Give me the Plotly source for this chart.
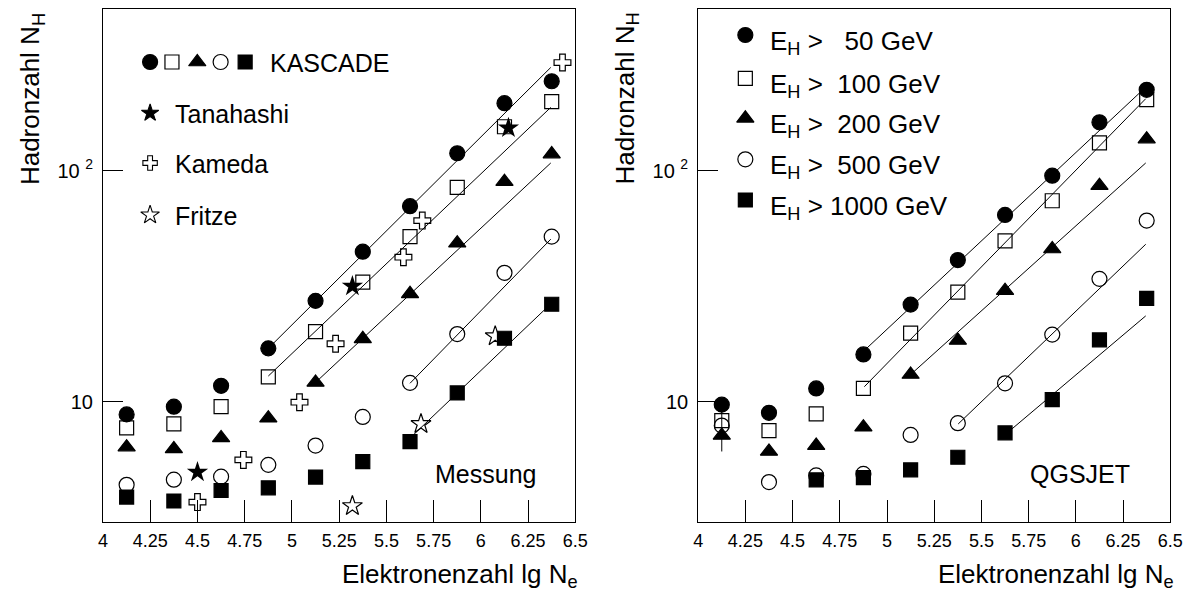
import math
import plotly.graph_objects as go

W, H = 1202, 592

# ---------------- data ----------------
lg_ne = [4.125, 4.375, 4.625, 4.875, 5.125, 5.375, 5.625, 5.875, 6.125, 6.375]

# Messung (KASCADE)
mes_50 = [8.8, 9.5, 11.7, 17.0, 27.3, 44.6, 70.2, 119, 196, 244]
mes_100 = [7.7, 8.0, 9.5, 12.8, 20.1, 32.9, 51.8, 84.7, 155, 199]
mes_200 = [6.35, 6.24, 6.96, 8.47, 12.1, 18.7, 29.3, 48.5, 89.6, 118]
mes_500 = [4.36, 4.59, 4.73, 5.32, 6.45, 8.58, 12.05, 19.6, 36.1, 51.8]
mes_1000 = [3.86, 3.71, 4.12, 4.23, 4.71, 5.49, 6.71, 10.9, 18.8, 26.4]

tanahashi_x = [4.50, 5.32, 6.146]
tanahashi_y = [4.95, 31.6, 153]
kameda_x = [4.50, 4.743, 5.04, 5.231, 5.59, 5.69, 6.432]
kameda_y = [3.67, 5.59, 9.94, 17.8, 42.2, 60.8, 294]
fritze_x = [5.32, 5.683, 6.076]
fritze_y = [3.53, 8.0, 19.2]

# QGSJET simulation
sim_50 = [9.7, 8.94, 11.4, 16.0, 26.3, 41.0, 64.3, 95.1, 162, 224]
sim_100 = [8.27, 7.48, 8.85, 11.4, 19.8, 29.8, 49.7, 74.1, 132, 203]
sim_200 = [7.13, 6.08, 6.45, 7.75, 13.1, 18.4, 30.2, 45.8, 86.1, 137]
sim_500 = [7.87, 4.48, 4.79, 4.86, 7.17, 8.06, 12.0, 19.5, 34.0, 60.8]
sim_1000 = [None, None, 4.58, 4.68, 5.06, 5.74, 7.32, 10.2, 18.5, 28.0]
sim_200_err_plus = [1.9, 0, 0, 0, 0, 0, 0, 0, 0, 0]
sim_200_err_minus = [1.05, 0, 0, 0, 0, 0, 0, 0, 0, 0]

# fit lines: start lgNe, end lgNe, start value, end value
mes_fit_x0 = [4.875, 4.875, 5.125, 5.625, 5.645]
mes_fit_x1 = [6.37, 6.37, 6.37, 6.37, 6.37]
mes_fit_y0 = [17.0, 12.9, 12.1, 12.0, 7.2]
mes_fit_y1 = [280, 188, 108, 50.5, 26.5]

sim_fit_x0 = [4.875, 4.88, 5.13, 5.377, 5.652]
sim_fit_x1 = [6.37, 6.37, 6.37, 6.37, 6.37]
sim_fit_y0 = [16.5, 11.6, 13.2, 8.0, 7.5]
sim_fit_y1 = [230, 205, 108, 48, 23.5]

energy_labels = ["E<sub>H</sub> >\u00a0\u00a0\u00a050 GeV",
                 "E<sub>H</sub> >\u00a0\u00a0100 GeV",
                 "E<sub>H</sub> >\u00a0\u00a0200 GeV",
                 "E<sub>H</sub> >\u00a0\u00a0500 GeV",
                 "E<sub>H</sub> >\u00a01000 GeV"]
x_tickvals = [4, 4.25, 4.5, 4.75, 5, 5.25, 5.5, 5.75, 6, 6.25, 6.5]
x_ticktext = ["4", "4.25", "4.5", "4.75", "5", "5.25", "5.5", "5.75", "6", "6.25", "6.5"]
x_minor = [round(4 + 0.05 * i, 2) for i in range(51)]
y_tickvals = [10, 100]
y_ticktext = ["10", "10 <sup>2</sup>"]
y_minor = [4, 5, 6, 7, 8, 9, 20, 30, 40, 50, 60, 70, 80, 90, 200, 300, 400]

# ---------------- styles ----------------
FONT = "Liberation Sans, Arial, Helvetica, sans-serif"
symbols = ["circle", "square-open", "triangle-up", "circle-open", "square"]
sizes = [15, 14, 15, 15, 14]

def X(p):
    return p / W

def Y(p):
    return 1 - p / H

fig = go.Figure()

def add_panel(xa, ya, series, fx0, fx1, fy0, fy1):
    for i in range(len(series)):
        fig.add_trace(go.Scatter(
            x=[fx0[i], fx1[i]], y=[fy0[i], fy1[i]], mode="lines",
            line=dict(color="black", width=1), xaxis=xa, yaxis=ya,
            showlegend=False, hoverinfo="skip"))
    for i, vals in enumerate(series):
        fig.add_trace(go.Scatter(
            x=lg_ne, y=vals, mode="markers",
            marker=dict(symbol=symbols[i], size=sizes[i], color="black", opacity=1,
                        line=dict(color="black", width=1.2)),
            xaxis=xa, yaxis=ya, showlegend=False, cliponaxis=False))

add_panel("x", "y", [mes_50, mes_100, mes_200, mes_500, mes_1000],
          mes_fit_x0, mes_fit_x1, mes_fit_y0, mes_fit_y1)
fig.add_trace(go.Scatter(x=tanahashi_x, y=tanahashi_y, mode="markers",
                         marker=dict(symbol="star", size=16, color="black", opacity=1),
                         xaxis="x", yaxis="y", showlegend=False))
fig.add_trace(go.Scatter(x=kameda_x, y=kameda_y, mode="markers",
                         marker=dict(symbol="cross-open", size=14, color="black", opacity=1,
                                     line=dict(color="black", width=1.2)),
                         xaxis="x", yaxis="y", showlegend=False, cliponaxis=False))
fig.add_trace(go.Scatter(x=fritze_x, y=fritze_y, mode="markers",
                         marker=dict(symbol="star-open", size=15, color="black", opacity=1,
                                     line=dict(color="black", width=1.2)),
                         xaxis="x", yaxis="y", showlegend=False, cliponaxis=False))

# error bar on QGSJET triangle
fig.add_trace(go.Scatter(x=lg_ne, y=sim_200, mode="markers",
                         marker=dict(size=2, color="black"),
                         error_y=dict(type="data", symmetric=False,
                                      array=sim_200_err_plus, arrayminus=sim_200_err_minus,
                                      color="black", thickness=1, width=0),
                         xaxis="x2", yaxis="y2", showlegend=False, hoverinfo="skip"))
add_panel("x2", "y2", [sim_50, sim_100, sim_200, sim_500, sim_1000],
          sim_fit_x0, sim_fit_x1, sim_fit_y0, sim_fit_y1)

# ---------------- legend glyphs (overlay axis in pixel units) ----------------
leg_x = [147.3, 169.5, 195.2, 218.9, 243.8]
fig.add_trace(go.Scatter(x=leg_x, y=[62] * 5, mode="markers",
                         marker=dict(symbol=symbols, size=sizes, color="black", opacity=1,
                                     line=dict(color="black", width=1.2)),
                         xaxis="x3", yaxis="y3", showlegend=False, hoverinfo="skip"))
fig.add_trace(go.Scatter(x=[147.3, 147.3, 147.3], y=[113, 163, 215], mode="markers",
                         marker=dict(symbol=["star", "cross-open", "star-open"], size=[13, 12, 14],
                                     color="black", opacity=1, line=dict(color="black", width=1.1)),
                         xaxis="x3", yaxis="y3", showlegend=False, hoverinfo="skip"))
right_rows = [35, 78.3, 118.3, 159.3, 200]
fig.add_trace(go.Scatter(x=[751.6] * 5, y=right_rows, mode="markers",
                         marker=dict(symbol=symbols, size=sizes, color="black", opacity=1,
                                     line=dict(color="black", width=1.2)),
                         xaxis="x3", yaxis="y3", showlegend=False, hoverinfo="skip"))

ann = []
def text(x, y, s, size=25, xanchor="left", yanchor="middle", angle=0):
    ann.append(dict(x=X(x), y=Y(y), xref="paper", yref="paper", text=s, showarrow=False,
                    xanchor=xanchor, yanchor=yanchor, textangle=angle,
                    font=dict(family=FONT, size=size, color="black")))

text(267, 63, "KASCADE", size=25)
text(171, 114, "Tanahashi", size=25)
text(171, 164, "Kameda", size=25)
text(171, 216, "Fritze", size=25)
for r, lab in zip(right_rows, energy_labels):
    text(775, r + 7, lab, size=26)
text(435, 474, "Messung", size=25)
text(1039, 474, "QGSJET", size=25)
for xc in (27.5, 631):
    text(xc, 11, "Hadronzahl N<sub>H</sub>", size=26, xanchor="center", yanchor="top", angle=-90)
for xr in (584, 1188.5):
    text(xr, 575, "Elektronenzahl lg N<sub>e</sub>", size=26, xanchor="right", yanchor="middle")

xdom1 = [99.5 / W, 579 / W]
xdom2 = [703.7 / W, 1183 / W]
ydom = [1 - 522.3 / H, 1 - 9.3 / H]
yrange = [math.log10(3), math.log10(500)]

def xax(dom, anchor):
    return dict(domain=dom, anchor=anchor, range=[4, 6.5], showgrid=False, zeroline=False,
                showline=True, mirror=True, linecolor="black", linewidth=1,
                ticks="inside", ticklen=22, tickwidth=1, tickcolor="black",
                tickmode="array", tickvals=x_tickvals, ticktext=x_ticktext,
                ticklabelstandoff=2,
                tickfont=dict(family=FONT, size=18, color="black"))

def xax_minor(dom, anchor, over):
    return dict(domain=dom, anchor=anchor, overlaying=over, range=[4, 6.5], showgrid=False,
                zeroline=False, showline=False, ticks="inside", ticklen=11, tickwidth=1,
                tickcolor="black", tickmode="array", tickvals=x_minor,
                ticktext=[""] * len(x_minor), showticklabels=False, side="bottom")

def yax(anchor):
    return dict(domain=ydom, anchor=anchor, type="log", range=yrange, showgrid=False,
                zeroline=False, showline=True, mirror=True, linecolor="black", linewidth=1,
                ticks="inside", ticklen=20, tickwidth=1, tickcolor="black",
                tickmode="array", tickvals=y_tickvals, ticktext=y_ticktext,
                ticklabelstandoff=5,
                tickfont=dict(family=FONT, size=20, color="black"))

def yax_minor(anchor, over):
    return dict(domain=ydom, anchor=anchor, overlaying=over, type="log", range=yrange,
                showgrid=False, zeroline=False, showline=False, ticks="inside", ticklen=11,
                tickwidth=1, tickcolor="black", tickmode="array", tickvals=y_minor,
                ticktext=[""] * len(y_minor), showticklabels=False, side="left")

fig.update_layout(
    width=W, height=H, margin=dict(l=0, r=0, t=0, b=0),
    paper_bgcolor="white", plot_bgcolor="rgba(0,0,0,0)", showlegend=False,
    xaxis=xax(xdom1, "y"), yaxis=yax("x"),
    xaxis2=xax(xdom2, "y2"), yaxis2=yax("x2"),
    xaxis3=dict(domain=[0, 1], range=[0, W], visible=False, anchor="y3"),
    yaxis3=dict(domain=[0, 1], range=[H, 0], visible=False, anchor="x3"),
    xaxis4=xax_minor(xdom1, "y", "x"), yaxis4=yax_minor("x", "y"),
    xaxis5=xax_minor(xdom2, "y2", "x2"), yaxis5=yax_minor("x2", "y2"),
    annotations=ann,
)

fig.write_html("out.html")
